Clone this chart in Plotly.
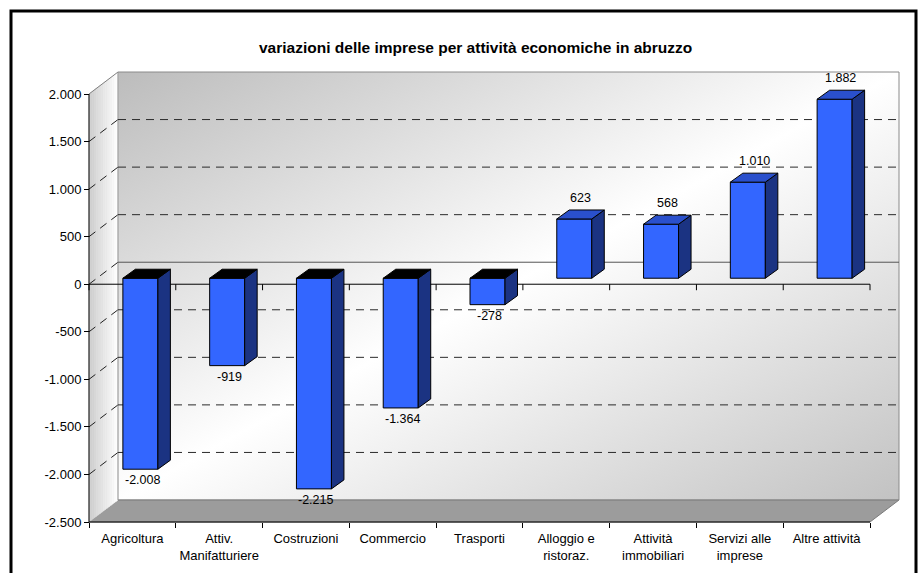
import base64
import plotly.graph_objects as go

# ---------------- data ----------------
categories = [
    "Agricoltura",
    "Attiv.<br>Manifatturiere",
    "Costruzioni",
    "Commercio",
    "Trasporti",
    "Alloggio e<br>ristoraz.",
    "Attività<br>immobiliari",
    "Servizi alle<br>imprese",
    "Altre attività",
]
values = [-2008, -919, -2215, -1364, -278, 623, 568, 1010, 1882]
y_tick_values = list(range(-2500, 2001, 500))
title_text = "variazioni delle imprese per attività economiche in abruzzo"


def it_fmt(v):
    return f"{v:,}".replace(",", ".")


# ---------------- geometry ----------------
W, H = 919, 573
n = len(categories)
X0, X1 = -0.5, n - 0.5                       # category extent (front plane)
Y0, Y1 = y_tick_values[0], y_tick_values[-1]  # value extent (front plane)
PL, PR, PT, PB = 89, 870, 94, 522            # pixel box of the front plane

px_x = (PR - PL) / (X1 - X0)
px_y = (PB - PT) / (Y1 - Y0)


def ux(p):
    return p / px_x


def uy(p):
    return p / px_y


# axes span the whole figure so that the 3D box is never clipped
X_RANGE = [X0 - ux(PL), X0 + ux(W - PL)]
Y_RANGE = [Y0 - uy(H - PB), Y0 + uy(PB)]


def to_px_x(x):
    return PL + (x - X0) * px_x


def to_px_y(y):
    return PB - (y - Y0) * px_y


DX, DY = ux(29), uy(22)      # depth of the box
BX, BY = ux(8), uy(6)        # bars placed inside the box
BW = ux(35)                  # bar front width
BDX, BDY = ux(12.5), uy(9)   # bar depth

FONT = "Arial, Liberation Sans, sans-serif"
shapes = []


def path(pts):
    return "M " + " L ".join(f"{x},{y}" for x, y in pts) + " Z"


def line(x0, y0, x1, y1, color="black", width=1, dash="solid", layer="below"):
    shapes.append(dict(type="line", xref="x", yref="y", layer=layer,
                       x0=x0, y0=y0, x1=x1, y1=y1,
                       line=dict(color=color, width=width, dash=dash)))


# floor
shapes.append(dict(type="path", xref="x", yref="y", layer="below",
                   path=path([(X0, Y0), (X0 + DX, Y0 + DY), (X1 + DX, Y0 + DY), (X1, Y0)]),
                   fillcolor="#9c9c9c", line=dict(color="#7a7a7a", width=1)))

# left wall (horizontal gradient in strips)
NS = 16
c0, c1 = 0xcc, 0xff
for k in range(NS):
    fa, fb = k / NS, (k + 1) / NS
    xa, xb = X0 + DX * fa, X0 + DX * fb
    c = int(c0 + (c1 - c0) * (k + 0.5) / NS)
    col = f"rgb({c},{c},{c})"
    shapes.append(dict(type="path", xref="x", yref="y", layer="below",
                       path=path([(xa, Y0 + DY * fa), (xa, Y1 + DY * fa),
                                  (xb, Y1 + DY * fb), (xb, Y0 + DY * fb)]),
                       fillcolor=col, line=dict(color=col, width=0.6)))
# left wall top edge
line(X0, Y1, X0 + DX, Y1 + DY, color="#808080")
# back wall outline
shapes.append(dict(type="rect", xref="x", yref="y", layer="below",
                   x0=X0 + DX, y0=Y0 + DY, x1=X1 + DX, y1=Y1 + DY,
                   line=dict(color="#8a8a8a", width=1)))

# gridlines on back wall + diagonals on left wall
for v in y_tick_values:
    if Y0 < v < Y1:
        if v == 0:
            line(X0 + DX, v + DY, X1 + DX, v + DY, color="#555555")
        else:
            line(X0 + DX, v + DY, X1 + DX, v + DY, color="#2a2a2a", dash="8px,6px")
        line(X0, v, X0 + DX, v + DY, color="#202020", dash="8px,6px")

# front axis lines
line(X0, Y0, X0, Y1)              # value axis
line(X0, Y0, X1, Y0)              # category axis at the bottom
line(X0, 0, X1, 0)                # zero line
for k in range(n + 1):
    b = X0 + k
    line(b, 0, b, -uy(6))

# bar side and top faces + labels
annotations = []
for i, v in enumerate(values):
    xl = i + BX - BW / 2
    xr = i + BX + BW / 2
    top = BY + max(v, 0)
    bot = BY + min(v, 0)
    shapes.append(dict(type="path", xref="x", yref="y", layer="above",
                       path=path([(xr, bot), (xr, top), (xr + BDX, top + BDY), (xr + BDX, bot + BDY)]),
                       fillcolor="#1b3382", line=dict(color="black", width=1)))
    shapes.append(dict(type="path", xref="x", yref="y", layer="above",
                       path=path([(xl, top), (xl + BDX, top + BDY), (xr + BDX, top + BDY), (xr, top)]),
                       fillcolor="#2a50cc" if v > 0 else "#000000",
                       line=dict(color="black", width=1)))
    if v >= 0:
        annotations.append(dict(x=i + BX + BDX / 2, y=top + BDY, xref="x", yref="y",
                                text=it_fmt(v), showarrow=False, yshift=12,
                                font=dict(family=FONT, size=12.5, color="black")))
    else:
        annotations.append(dict(x=i + BX + ux(2), y=bot, xref="x", yref="y",
                                text=it_fmt(v), showarrow=False, yshift=-11,
                                font=dict(family=FONT, size=12.5, color="black")))

# title
annotations.append(dict(x=475 / W, y=1 - 37 / H, xref="paper", yref="paper",
                        text=f"<b>{title_text}</b>", showarrow=False,
                        font=dict(family=FONT, size=15.5, color="black")))

# outer frame
shapes.append(dict(type="rect", xref="paper", yref="paper",
                   x0=11 / W, x1=916 / W, y0=-0.05, y1=1 - 11 / H,
                   line=dict(color="black", width=3)))

# back wall diagonal gradient as background image
svg = ('<svg xmlns="http://www.w3.org/2000/svg" width="100" height="100" viewBox="0 0 100 100" '
       'preserveAspectRatio="none"><defs><linearGradient id="g" x1="0" y1="0" x2="1" y2="1">'
       '<stop offset="0" stop-color="#bcbcbc"/><stop offset="0.5" stop-color="#ffffff"/>'
       '<stop offset="1" stop-color="#c2c2c2"/></linearGradient></defs>'
       '<rect width="100" height="100" fill="url(#g)"/></svg>')
svg_uri = "data:image/svg+xml;base64," + base64.b64encode(svg.encode()).decode()

wl, wr = to_px_x(X0 + DX), to_px_x(X1 + DX)
wt, wb = to_px_y(Y1 + DY), to_px_y(Y0 + DY)
images = [dict(source=svg_uri, xref="paper", yref="paper",
               x=wl / W, y=1 - wt / H, sizex=(wr - wl) / W, sizey=(wb - wt) / H,
               xanchor="left", yanchor="top", sizing="stretch", layer="below")]

fig = go.Figure()
fig.add_trace(go.Bar(
    x=categories, y=values, base=[BY] * n,
    width=BW, offset=BX - BW / 2,
    marker=dict(color="#3366ff", line=dict(color="black", width=1)),
    hoverinfo="skip", showlegend=False,
))

fig.update_layout(
    width=W, height=H,
    margin=dict(l=0, r=0, t=0, b=0),
    paper_bgcolor="white", plot_bgcolor="rgba(0,0,0,0)",
    template="none",
    font=dict(family=FONT, size=12, color="black"),
    separators=",.",
    showlegend=False,
    shapes=shapes, annotations=annotations, images=images,
    xaxis=dict(type="category", range=X_RANGE, domain=[0, 1],
               anchor="free", position=1 - PB / H,
               showline=False, ticks="outside", tickson="boundaries",
               ticklen=5, tickcolor="black", ticklabelstandoff=7, tickangle=0,
               showgrid=False, zeroline=False, automargin=False,
               tickfont=dict(family=FONT, size=13, color="black")),
    yaxis=dict(range=Y_RANGE, domain=[0, 1],
               anchor="free", position=PL / W,
               tickmode="array", tickvals=y_tick_values,
               ticktext=[it_fmt(v) for v in y_tick_values],
               showline=False, ticks="outside", ticklen=5, tickcolor="black",
               showgrid=False, zeroline=False, automargin=False,
               tickfont=dict(family=FONT, size=13, color="black")),
)

fig.write_html("out.html")
